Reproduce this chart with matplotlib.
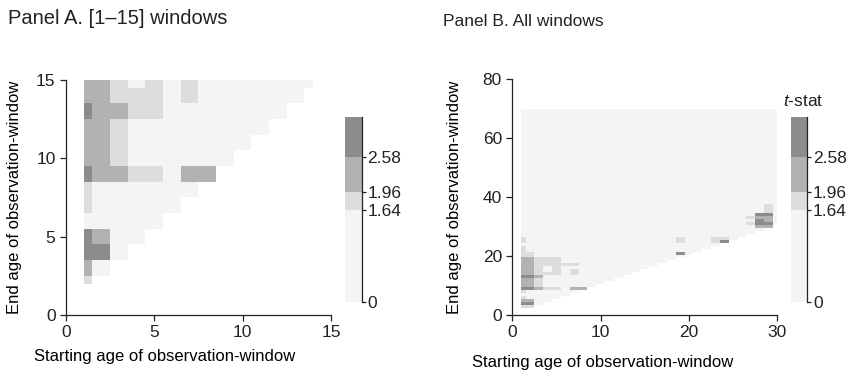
import matplotlib
matplotlib.use('Agg')
import matplotlib.pyplot as plt
import matplotlib.colors as mcolors
import matplotlib.cm as cm
import numpy as np

plt.rcParams['font.family'] = ['Liberation Sans', 'DejaVu Sans']
plt.rcParams['mathtext.fontset'] = 'custom'
plt.rcParams['mathtext.rm'] = 'Liberation Sans'
plt.rcParams['mathtext.it'] = 'Liberation Sans:italic'
plt.rcParams['font.size'] = 12

# significance bands of the t-stat
t_bounds = [0, 1.64, 1.96, 2.58, 3.3]
t_ticks = [0, 1.64, 1.96, 2.58]
band_colors = ['#f3f4f3', '#dcdddd', '#b2b2b2', '#8c8c8c']

# Panel A: significance level per window (0: <1.64, 1: 1.64-1.96, 2: 1.96-2.58, 3: >2.58)
# rows are end ages 15 down to 2, columns starting ages 1..14, -1 = no window
a_start = np.arange(1, 15)
a_end = np.arange(15, 1, -1)
a_levels = [
    [2, 2, 1, 0, 1, 0, 1, 0, 0, 0, 0, 0, 0, 0],
    [2, 2, 1, 1, 1, 0, 1, 0, 0, 0, 0, 0, 0, -1],
    [3, 2, 2, 1, 1, 0, 0, 0, 0, 0, 0, 0, -1, -1],
    [2, 2, 1, 0, 0, 0, 0, 0, 0, 0, 0, -1, -1, -1],
    [2, 2, 1, 0, 0, 0, 0, 0, 0, 0, -1, -1, -1, -1],
    [2, 2, 1, 0, 0, 0, 0, 0, 0, -1, -1, -1, -1, -1],
    [3, 2, 2, 1, 1, 0, 2, 2, -1, -1, -1, -1, -1, -1],
    [1, 0, 0, 0, 0, 0, 0, -1, -1, -1, -1, -1, -1, -1],
    [1, 0, 0, 0, 0, 0, -1, -1, -1, -1, -1, -1, -1, -1],
    [0, 0, 0, 0, 0, -1, -1, -1, -1, -1, -1, -1, -1, -1],
    [3, 2, 0, 0, -1, -1, -1, -1, -1, -1, -1, -1, -1, -1],
    [3, 3, 0, -1, -1, -1, -1, -1, -1, -1, -1, -1, -1, -1],
    [2, 0, -1, -1, -1, -1, -1, -1, -1, -1, -1, -1, -1, -1],
    [1, -1, -1, -1, -1, -1, -1, -1, -1, -1, -1, -1, -1, -1],
]

# Panel B: starting ages 1..30, end ages 2..70; everything not listed is level 0
b_start = np.arange(1, 31)
b_end = np.arange(2, 71)
b_marked = [
    # (start, end, level)
    (1, 26, 1), (1, 25, 1), (1, 23, 1), (1, 22, 1), (1, 21, 1), (1, 20, 1),
    (1, 19, 2), (1, 18, 2), (1, 17, 2), (1, 16, 2), (1, 15, 2), (1, 14, 2),
    (1, 13, 3), (1, 12, 2), (1, 11, 2), (1, 10, 2), (1, 9, 3), (1, 8, 1),
    (1, 6, 1), (1, 5, 2), (1, 4, 3), (1, 3, 1),
    (2, 21, 1), (2, 20, 1), (2, 19, 2), (2, 18, 2), (2, 17, 2), (2, 16, 2),
    (2, 15, 2), (2, 14, 2), (2, 13, 3), (2, 12, 2), (2, 11, 2), (2, 10, 2),
    (2, 9, 3), (2, 5, 2), (2, 4, 3), (2, 3, 1),
    (3, 19, 1), (3, 18, 1), (3, 17, 1), (3, 16, 1), (3, 15, 1), (3, 14, 1),
    (3, 13, 2), (3, 12, 1), (3, 11, 1), (3, 10, 1), (3, 9, 2),
    (4, 19, 1), (4, 18, 1), (4, 17, 1), (4, 14, 1), (4, 9, 1),
    (5, 19, 1), (5, 18, 1), (5, 17, 1), (5, 16, 1), (5, 15, 1), (5, 14, 1), (5, 9, 1),
    (6, 17, 1), (7, 17, 1), (7, 15, 1), (7, 14, 1), (7, 9, 2), (8, 9, 2),
    (19, 26, 1), (19, 25, 1), (19, 21, 3),
    (23, 26, 1), (23, 25, 1), (24, 26, 1), (24, 25, 3),
    (27, 33, 1), (27, 31, 1),
    (28, 34, 3), (28, 33, 2), (28, 32, 3), (28, 31, 3), (28, 30, 2),
    (29, 37, 1), (29, 36, 1), (29, 35, 1), (29, 34, 3), (29, 33, 2),
    (29, 32, 2), (29, 31, 3), (29, 30, 2),
]


def cell_edges(centers):
    lo, hi = centers.min(), centers.max()
    return np.clip(np.arange(lo - 0.5, hi + 1.0, 1.0), lo, hi)


level_cmap = mcolors.ListedColormap(band_colors)
level_norm = mcolors.BoundaryNorm([-0.5, 0.5, 1.5, 2.5, 3.5], 4)
t_norm = mcolors.BoundaryNorm(t_bounds, 4)

fig = plt.figure(figsize=(8.5, 3.78), dpi=100)
ax_a = fig.add_axes([0.0776, 0.1667, 0.3118, 0.6217])
ax_b = fig.add_axes([0.6027, 0.1667, 0.3118, 0.6243])
cax_a = fig.add_axes([0.4059, 0.2011, 0.0196, 0.4894])
cax_b = fig.add_axes([0.9302, 0.2011, 0.0196, 0.4894])

# panel A grid (flip so rows go from end age 2 upward)
grid_a = np.ma.masked_less(np.array(a_levels)[::-1], 0)
ax_a.pcolormesh(cell_edges(a_start), cell_edges(a_end[::-1]), grid_a,
                cmap=level_cmap, norm=level_norm)

# panel B grid
grid_b = np.zeros((len(b_end), len(b_start)))
S, E = np.meshgrid(b_start, b_end)
for s, e, lev in b_marked:
    grid_b[(E == e) & (S == s)] = lev
grid_b = np.ma.masked_where(E <= S, grid_b)
ax_b.pcolormesh(cell_edges(b_start), cell_edges(b_end), grid_b,
                cmap=level_cmap, norm=level_norm)

for ax in (ax_a, ax_b):
    for side in ('top', 'right'):
        ax.spines[side].set_visible(False)
    for side in ('left', 'bottom'):
        ax.spines[side].set_color('#222222')
        ax.spines[side].set_linewidth(0.9)
    ax.tick_params(direction='out', length=4, width=0.9, colors='#222222', labelsize=12.5)

ax_a.set_xlim(0, 15)
ax_a.set_ylim(0, 15)
ax_a.set_xticks([0, 5, 10, 15])
ax_a.set_yticks([0, 5, 10, 15])
ax_a.set_xlabel('Starting age of observation-window')
ax_a.set_ylabel('End age of observation-window')
ax_a.xaxis.set_label_coords(0.374, -0.145)
ax_a.yaxis.set_label_coords(-0.165, 0.5)

ax_b.set_xlim(0, 30)
ax_b.set_ylim(0, 80)
ax_b.set_xticks([0, 10, 20, 30])
ax_b.set_yticks([0, 20, 40, 60, 80])
ax_b.set_xlabel('Starting age of observation-window')
ax_b.set_ylabel('End age of observation-window')
ax_b.xaxis.set_label_coords(0.34, -0.17)
ax_b.yaxis.set_label_coords(-0.188, 0.5)

for cax in (cax_a, cax_b):
    cb = fig.colorbar(cm.ScalarMappable(norm=t_norm, cmap=level_cmap), cax=cax,
                      ticks=t_ticks, spacing='proportional')
    cb.outline.set_visible(False)
    cb.minorticks_off()
    cb.ax.set_yticklabels(['0', '1.64', '1.96', '2.58'])
    cax.spines['right'].set_visible(True)
    cax.spines['right'].set_color('#222222')
    cax.spines['right'].set_linewidth(0.9)
    cax.tick_params(direction='out', length=3, width=0.9, colors='#222222', labelsize=12.5, pad=1)

fig.text(803 / 850, 1 - 102 / 378, '$t$-stat', ha='center', va='center', fontsize=12.5, color='#222222')
fig.text(8 / 850, 1 - 18 / 378, 'Panel A. [1\u201315] windows', ha='left', va='center',
         fontsize=14.5, color='#222222')
fig.text(443 / 850, 1 - 22 / 378, 'Panel B. All windows', ha='left', va='center',
         fontsize=12.5, color='#222222')

fig.savefig('out.png', dpi=100)
